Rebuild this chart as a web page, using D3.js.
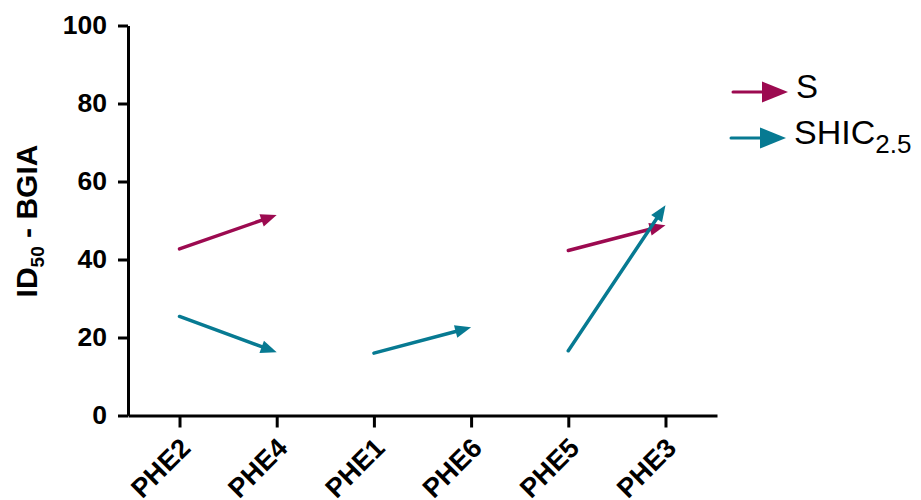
<!DOCTYPE html>
<html><head><meta charset="utf-8">
<script src="https://cdn.jsdelivr.net/npm/d3@7"></script>
<style>body{margin:0;background:#fff}svg{display:block}</style>
</head><body>
<script>
const categories = ["PHE2","PHE4","PHE1","PHE6","PHE5","PHE3"];
const sValues = [42.7, 51.4, null, null, 42.3, 48.8];
const shicValues = [25.4, 16.2, 16.0, 22.6, 16.6, 53.9];
const yTicks = [0, 20, 40, 60, 80, 100];
const pairs = [[0,1],[2,3],[4,5]];
const seriesNames = ["S", "SHIC"];
const colors = {S: "#9c0a50", SHIC: "#077a92"};

const W = 921, H = 500;
const svg = d3.select("body").append("svg").attr("width", W).attr("height", H);
const font = "'Liberation Sans', Arial, sans-serif";

const x = d3.scalePoint().domain(categories).range([128, 717]).padding(0.53);
const y = d3.scaleLinear().domain([0, 100]).range([415.5, 25.5]);

// axes
const yAxis = svg.append("g").attr("transform", "translate(128,0)")
  .call(d3.axisLeft(y).tickValues(yTicks).tickSize(10).tickPadding(11).tickSizeOuter(0));
yAxis.select(".domain").attr("stroke", "#000").attr("stroke-width", 3);
yAxis.selectAll(".tick line").attr("stroke", "#000").attr("stroke-width", 3);
yAxis.selectAll(".tick text").attr("font-family", font).attr("font-size", 26.5)
  .attr("font-weight", "bold").attr("fill", "#000");

const xAxis = svg.append("g").attr("transform", "translate(0,415.5)")
  .call(d3.axisBottom(x).tickSize(12).tickSizeOuter(0));
xAxis.select(".domain").attr("stroke", "#000").attr("stroke-width", 3);
xAxis.selectAll(".tick line").attr("stroke", "#000").attr("stroke-width", 3);
xAxis.selectAll(".tick text").attr("font-family", font).attr("font-size", 27)
  .attr("font-weight", "bold").attr("fill", "#000")
  .attr("text-anchor", "end").attr("y", 0).attr("dy", 0)
  .attr("transform", "translate(12,34) rotate(-45)");

// y title
const yt = svg.append("text").attr("transform", "translate(37,221) rotate(-90)")
  .attr("text-anchor", "middle").attr("font-family", font).attr("font-weight", "bold")
  .attr("font-size", 30).attr("fill", "#000");
yt.append("tspan").text("ID");
yt.append("tspan").text("50").attr("font-size", 19).attr("dy", 7);
yt.append("tspan").text(" - BGIA").attr("dy", -7);

function arrow(g, x1, y1, x2, y2, color, sw, hl, hw) {
  const dx = x2 - x1, dy = y2 - y1, L = Math.hypot(dx, dy);
  const ux = dx / L, uy = dy / L, px = -uy, py = ux;
  const bx = x2 - ux * hl, by = y2 - uy * hl;
  g.append("line").attr("x1", x1).attr("y1", y1).attr("x2", bx + ux * 2).attr("y2", by + uy * 2)
    .attr("stroke", color).attr("stroke-width", sw).attr("stroke-linecap", "round");
  g.append("path").attr("d", `M${x2},${y2}L${bx + px * hw},${by + py * hw}L${bx - px * hw},${by - py * hw}Z`)
    .attr("fill", color);
}

const data = {S: sValues, SHIC: shicValues};
const marks = svg.append("g");
seriesNames.forEach(name => {
  const vals = data[name];
  pairs.forEach(([a, b]) => {
    if (vals[a] == null || vals[b] == null) return;
    arrow(marks, x(categories[a]), y(vals[a]), x(categories[b]), y(vals[b]), colors[name], 3.5, 16, 6.5);
  });
});

// legend
const leg = svg.append("g");
[["S", 92, 733, 788], ["SHIC", 138, 731, 786]].forEach(([name, ly, x1, x2]) => {
  arrow(leg, x1, ly, x2, ly, colors[name], 3, 26, 10.5);
});
leg.append("text").attr("x", 796).attr("y", 98).attr("font-family", font).attr("font-size", 33)
  .attr("fill", "#000").text("S");
const lt = leg.append("text").attr("x", 794).attr("y", 144).attr("font-family", font).attr("font-size", 34)
  .attr("fill", "#000");
lt.append("tspan").text("SHIC");
lt.append("tspan").text("2.5").attr("font-size", 26).attr("dy", 9);
</script>
</body></html>
